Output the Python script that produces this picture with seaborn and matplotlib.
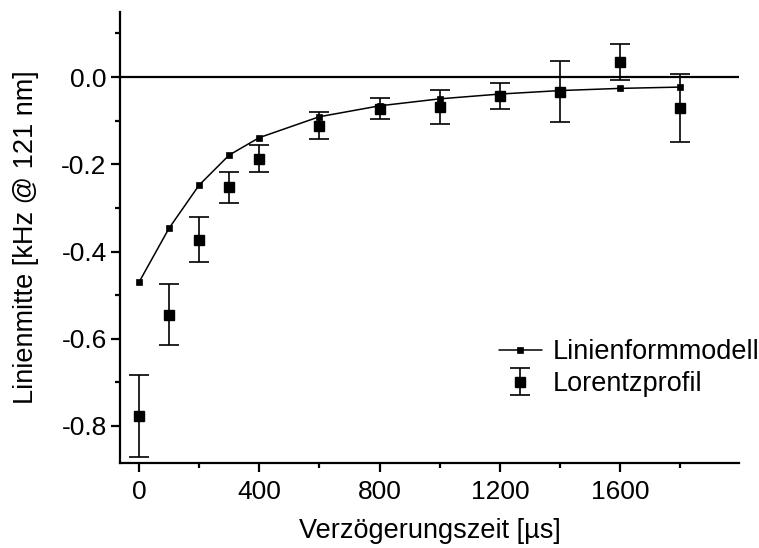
import matplotlib
matplotlib.use("Agg")
import matplotlib.pyplot as plt
import matplotlib.ticker as mticker
import pandas as pd
import seaborn as sns

# Verzögerungszeiten in µs
delay = [0, 100, 200, 300, 400, 600, 800, 1000, 1200, 1400, 1600, 1800]
# Linienformmodell (kHz @ 121 nm)
model = [-0.471, -0.347, -0.248, -0.179, -0.139, -0.091, -0.066, -0.050,
         -0.039, -0.031, -0.026, -0.023]
# Lorentzprofil-Anpassung mit Fehlerbalken
lorentz = [-0.777, -0.545, -0.373, -0.253, -0.187, -0.112, -0.073, -0.069,
           -0.044, -0.034, 0.035, -0.070]
lorentz_err = [0.093, 0.070, 0.052, 0.036, 0.031, 0.031, 0.024, 0.039,
               0.030, 0.070, 0.041, 0.078]

sns.set_theme(style="ticks")
plt.rcParams["font.family"] = ["Liberation Sans", "DejaVu Sans"]
plt.rcParams["axes.unicode_minus"] = False
plt.rcParams["text.color"] = "black"
plt.rcParams["axes.labelcolor"] = "black"

fig = plt.figure(figsize=(7.59, 5.48), dpi=100)
ax = fig.add_axes([0.158, 0.155, 0.816, 0.823])

df_model = pd.DataFrame({"t": delay, "v": model})
sns.lineplot(data=df_model, x="t", y="v", ax=ax, color="black", lw=1.1,
             marker="s", markersize=4.3, markeredgecolor="black",
             markeredgewidth=0.5, label="Linienformmodell", zorder=3)

ax.errorbar(delay, lorentz, yerr=lorentz_err, fmt="s", color="black",
            ms=7.5, markeredgecolor="black", elinewidth=1.2, capsize=7,
            capthick=1.2, label="Lorentzprofil", zorder=4)

ax.axhline(0.0, color="black", lw=1.6, zorder=2)

ax.set_xlim(-63, 1996)
ax.set_ylim(-0.885, 0.149)
ax.xaxis.set_major_locator(mticker.MultipleLocator(400))
ax.xaxis.set_minor_locator(mticker.MultipleLocator(200))
ax.yaxis.set_major_locator(mticker.MultipleLocator(0.2))
ax.yaxis.set_minor_locator(mticker.MultipleLocator(0.1))
ax.yaxis.set_major_formatter(mticker.FuncFormatter(lambda v, p: f"{v:.1f}"))

for side in ("top", "right"):
    ax.spines[side].set_visible(False)
for side in ("left", "bottom"):
    ax.spines[side].set_linewidth(1.6)
    ax.spines[side].set_color("black")

ax.tick_params(which="major", direction="out", length=6.5, width=1.6,
               labelsize=19, colors="black")
ax.tick_params(axis="x", which="major", pad=6)
ax.tick_params(axis="y", which="major", pad=3)
ax.tick_params(which="minor", direction="out", length=3.5, width=1.6, colors="black")

ax.set_xlabel("Verzögerungszeit [µs]", fontsize=19.5, labelpad=10, color="black")
ax.set_ylabel("Linienmitte [kHz @ 121 nm]", fontsize=19.5, labelpad=16, color="black")

handles, labels = ax.get_legend_handles_labels()
order = [labels.index("Linienformmodell"), labels.index("Lorentzprofil")]
leg = ax.legend([handles[i] for i in order], [labels[i] for i in order],
                frameon=False, fontsize=19.5, loc="upper left",
                bbox_to_anchor=(0.657, 0.381), bbox_transform=fig.transFigure,
                handlelength=1.6, handletextpad=0.4, labelspacing=0.22,
                borderpad=0, borderaxespad=0)
for t in leg.get_texts():
    t.set_color("black")

ax.grid(False)
fig.savefig("out.png", dpi=100)
